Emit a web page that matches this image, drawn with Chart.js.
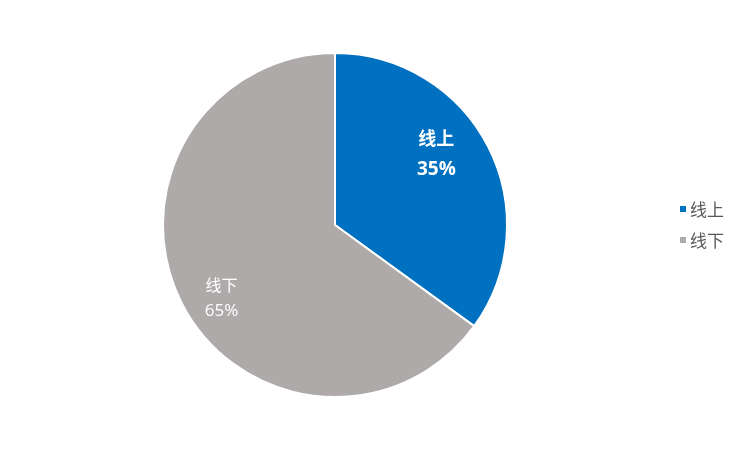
<!DOCTYPE html>
<html><head><meta charset="utf-8">
<script src="https://cdn.jsdelivr.net/npm/chart.js@4/dist/chart.umd.min.js"></script>
<style>
html,body{margin:0;padding:0;background:#fff;}
#wrap{position:relative;width:750px;height:450px;}
#legend{position:absolute;left:680px;top:195px;font-family:"Noto Sans CJK SC","Noto Sans",sans-serif;font-size:17px;color:#595959;}
#legend div{height:31px;line-height:28px;white-space:nowrap;}
#legend span.sw{display:inline-block;width:6px;height:6px;margin-right:4px;vertical-align:middle;position:relative;top:-2px;}
</style></head>
<body><div id="wrap"><canvas id="c" width="750" height="450"></canvas><div id="legend"></div></div>
<script>
const categories = ["线上", "线下"];
const values = [35, 65];
const colors = ["#0070C0", "#AEAAAA"];
const labelWeights = ["bold", "normal"];
const labelSizes = [18, 16];

const labelPlugin = {
  id: 'sliceLabels',
  afterDatasetsDraw(chart) {
    const ctx = chart.ctx;
    const meta = chart.getDatasetMeta(0);
    const total = values.reduce((a, b) => a + b, 0);
    meta.data.forEach((arc, i) => {
      const mid = (arc.startAngle + arc.endAngle) / 2;
      const f = i === 0 ? 0.72 : 0.78;
      const x = arc.x + Math.cos(mid) * arc.outerRadius * f - (i === 0 ? 9 : -6);
      const y = arc.y + Math.sin(mid) * arc.outerRadius * f - (i === 0 ? 15 : -12);
      const gap = i === 0 ? 16 : 13;
      ctx.save();
      ctx.fillStyle = '#ffffff';
      ctx.textAlign = 'center';
      ctx.textBaseline = 'middle';
      ctx.font = labelWeights[i] + ' ' + labelSizes[i] + 'px "Noto Sans CJK SC", sans-serif';
      ctx.fillText(categories[i], x, y - gap);
      ctx.font = labelWeights[i] + ' ' + (labelSizes[i] + 1) + 'px "Open Sans", "Noto Sans", sans-serif';
      ctx.fillText(Math.round(values[i] / total * 100) + '%', x, y + gap);
      ctx.restore();
    });
  }
};

new Chart(document.getElementById('c'), {
  type: 'pie',
  data: {
    labels: categories,
    datasets: [{ data: values, backgroundColor: colors, borderColor: '#ffffff', borderWidth: 2 }]
  },
  options: {
    responsive: false,
    animation: false,
    layout: { padding: { left: 162, right: 242, top: 52, bottom: 52 } },
    plugins: { legend: { display: false }, tooltip: { enabled: false } }
  },
  plugins: [labelPlugin]
});

const lg = document.getElementById('legend');
categories.forEach((c, i) => {
  const d = document.createElement('div');
  d.innerHTML = '<span class="sw" style="background:' + colors[i] + '"></span>' + c;
  lg.appendChild(d);
});
</script></body></html>
